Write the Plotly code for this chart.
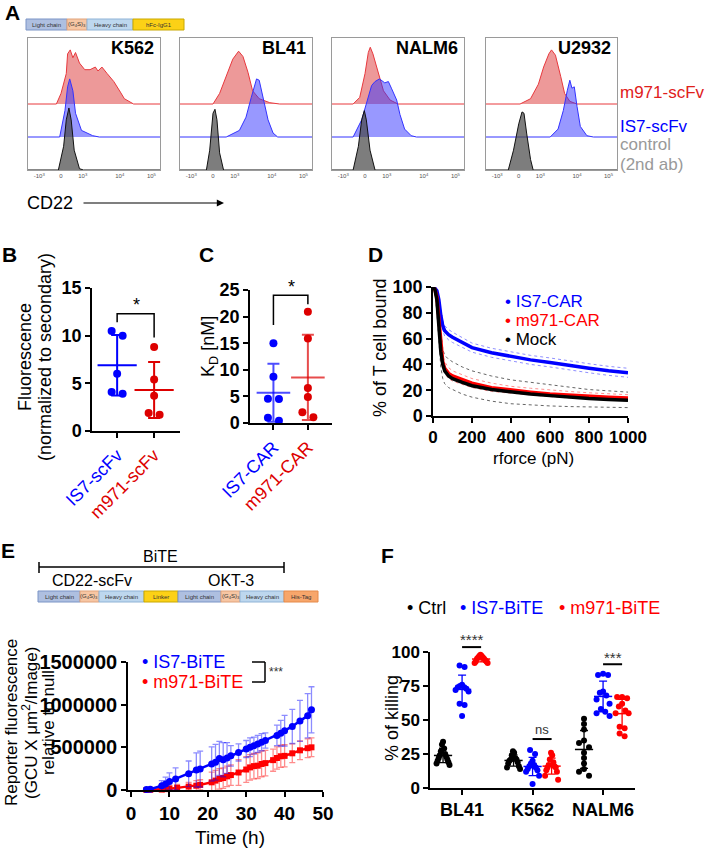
import numpy as np
import plotly.graph_objects as go

W, H = 708, 851
FONT = "Liberation Sans, Arial, sans-serif"
BLUE = "#0000ff"
GRAY = "#999999"

# ---------------- A: flow histograms (x in display units, height above own baseline) ----------------
A_CELLS = ["K562", "BL41", "NALM6", "U2932"]
A_TICK_POS = [8.5, 25, 41.5, 69.5, 93.5]
A_TICK_TEXT = ["-10<sup>3</sup>", "0", "10<sup>3</sup>", "10<sup>4</sup>", "10<sup>5</sup>"]

K562_M971_X = [0, 21.5, 25, 29, 30, 32, 34, 36, 39, 43, 47, 51, 53, 56, 60, 65, 70, 73, 80, 100]
K562_M971_Y = [0, 0, 8, 23, 38, 41, 35, 39, 31, 26, 26, 28, 25, 28, 23, 17, 9, 4, 0, 0]
K562_IS7_X = [0, 24, 28, 30, 31.6, 34, 36, 40.5, 49, 54, 100]
K562_IS7_Y = [0, 0, 20, 38, 44, 35, 18, 5, 1, 0, 0]
K562_CTRL_X = [0, 23, 27, 29, 31, 32.7, 35, 39, 42, 100]
K562_CTRL_Y = [0, 0, 18, 38, 47, 38, 15, 1, 0, 0]

BL41_M971_X = [0, 25, 30, 35, 40, 44.4, 47.7, 51.5, 55, 60, 68, 75.5, 100]
BL41_M971_Y = [0, 0, 8, 21, 34, 40, 36, 24, 10, 4, 1, 0, 0]
BL41_IS7_X = [0, 35, 45, 50, 54, 58, 60, 63, 66.7, 70.5, 74, 100]
BL41_IS7_Y = [0, 0, 5, 15, 30, 44, 43, 30, 13, 3, 0, 0]
BL41_CTRL_X = [0, 20, 22.5, 25, 26.5, 28, 30, 33, 100]
BL41_CTRL_Y = [0, 0, 15, 43, 46, 38, 13, 0, 0]

NALM6_M971_X = [0, 16, 21, 25, 27.5, 29, 31, 34, 36, 39, 44, 50, 100]
NALM6_M971_Y = [0, 0, 5, 23, 39, 43, 38, 28, 21, 10, 3, 0, 0]
NALM6_IS7_X = [0, 16, 22.5, 27.5, 30, 32.6, 36, 40, 42.7, 45, 49, 51.5, 55, 60, 64, 100]
NALM6_IS7_Y = [0, 0, 13, 30, 39, 42, 44, 41, 42, 37, 28, 17, 6, 1, 0, 0]
NALM6_CTRL_X = [0, 16, 20, 22.5, 24.5, 26, 28.8, 32.6, 100]
NALM6_CTRL_Y = [0, 0, 18, 38, 45, 38, 15, 0, 0]

U2932_M971_X = [0, 26, 34, 40, 44, 48, 50, 53, 57, 60, 64, 69.5, 100]
U2932_M971_Y = [0, 0, 4, 15, 28, 38, 41, 37, 21, 8, 2, 0, 0]
U2932_IS7_X = [0, 49, 55, 59, 62, 64, 65.6, 67.4, 69.5, 72, 77, 82, 100]
U2932_IS7_Y = [0, 0, 6, 20, 35, 43, 37, 38, 23, 8, 1, 0, 0]
U2932_CTRL_X = [0, 17, 21, 25, 27.5, 29, 31, 34, 36, 100]
U2932_CTRL_Y = [0, 0, 15, 35, 44, 43, 28, 8, 0, 0]

A_HIST = {
    "K562": [(K562_M971_X, K562_M971_Y), (K562_IS7_X, K562_IS7_Y), (K562_CTRL_X, K562_CTRL_Y)],
    "BL41": [(BL41_M971_X, BL41_M971_Y), (BL41_IS7_X, BL41_IS7_Y), (BL41_CTRL_X, BL41_CTRL_Y)],
    "NALM6": [(NALM6_M971_X, NALM6_M971_Y), (NALM6_IS7_X, NALM6_IS7_Y), (NALM6_CTRL_X, NALM6_CTRL_Y)],
    "U2932": [(U2932_M971_X, U2932_M971_Y), (U2932_IS7_X, U2932_IS7_Y), (U2932_CTRL_X, U2932_CTRL_Y)],
}

# ---------------- B / C ----------------
B_LABELS = ["IS7-scFv", "m971-scFv"]
B_IS7 = [10.5, 10.0, 6.0, 4.1, 3.9]
B_M971 = [8.8, 5.4, 3.7, 1.9, 1.7]

C_LABELS = ["IS7-CAR", "m971-CAR"]
C_IS7 = [15.0, 8.7, 4.55, 4.5, 1.0, 0.4]
C_M971 = [20.9, 15.9, 6.6, 4.9, 2.0, 1.1]

# ---------------- D: force curves ----------------
D_FORCE = [0, 10, 20, 30, 40, 50, 60, 80, 100, 150, 200, 300, 400, 500, 600, 700, 800, 900, 1000]
D_IS7 = [100, 99, 97, 90, 78, 70, 66, 63, 61, 57, 53, 49, 46, 43.5, 41.5, 39, 37, 35, 33.6]
D_IS7_HI = [100, 99.5, 98, 93, 82, 74, 70, 67, 65, 61, 56.5, 52.5, 49.5, 47, 45, 42.5, 40.5, 38.5, 37]
D_IS7_LO = [100, 98, 95, 86, 74, 66, 62, 59, 57, 53, 49.5, 45.5, 42.5, 40, 38, 35.5, 33.5, 31.5, 30]
D_M971 = [100, 98, 92, 75, 55, 42, 37, 33, 31, 28, 25.5, 22, 20, 18.5, 17, 16, 15.3, 14.5, 14]
D_M971_HI = [100, 99, 95, 80, 60, 47, 42, 37.5, 35, 32, 29, 25.5, 23, 21.5, 20, 19, 18, 17, 16.5]
D_M971_LO = [100, 97, 88, 70, 50, 38, 33, 29, 27, 24.5, 22, 19, 17.5, 16, 15, 14, 13.5, 13, 12.5]
D_MOCK = [100, 98, 90, 70, 50, 40, 35, 31, 29, 26, 23.5, 20.5, 18.5, 17, 15.8, 14.5, 13.5, 12.8, 12.3]
D_MOCK_HI = [100, 99, 94, 80, 62, 52, 47, 44, 42, 38, 35, 31, 28, 26, 24, 22, 20.5, 19.5, 18.5]
D_MOCK_LO = [100, 96, 80, 55, 38, 29, 25, 22, 20.5, 17, 14.6, 11.5, 9.5, 8.5, 7.8, 7.3, 7, 6.8, 6.5]

# ---------------- E: reporter time course ----------------
E_T_IS7 = [4, 5, 8, 9, 10, 11.6, 15, 17, 18, 21, 22, 23, 24, 25, 26, 28, 30, 31, 32, 33, 34, 35, 38, 39, 40, 42, 44, 46, 47]
E_IS7 = [5000, 10000, 50000, 70000, 100000, 130000, 190000, 235000, 245000, 305000, 325000, 370000, 355000, 375000,
         400000, 440000, 480000, 500000, 520000, 540000, 560000, 580000, 640000, 665000, 695000, 745000, 810000,
         870000, 940000]
E_IS7_SD = [10000, 10000, 60000, 80000, 100000, 130000, 150000, 200000, 210000, 200000, 210000, 200000, 200000,
            180000, 120000, 100000, 100000, 110000, 100000, 100000, 100000, 90000, 120000, 150000, 180000, 200000,
            240000, 260000, 270000]
E_T_M971 = [4, 5, 8, 9, 10, 12, 15, 17, 18, 21, 22, 23, 24, 25, 26, 28, 30, 31, 32, 33, 34, 35, 37, 38, 39, 40, 42, 44, 46, 47]
E_M971 = [0, 2000, 5000, 10000, 15000, 25000, 40000, 50000, 60000, 90000, 110000, 130000, 140000, 160000, 175000,
          205000, 240000, 265000, 280000, 285000, 305000, 315000, 350000, 375000, 395000, 400000, 430000, 465000,
          490000, 500000]
E_M971_SD = [5000, 5000, 40000, 40000, 40000, 40000, 50000, 60000, 60000, 120000, 120000, 120000, 120000, 120000,
             120000, 150000, 150000, 150000, 150000, 150000, 150000, 150000, 130000, 130000, 130000, 130000, 110000,
             110000, 110000, 110000]

# ---------------- F: killing ----------------
F_CELLS = ["BL41", "K562", "NALM6"]
F_GROUPS = ["Ctrl", "IS7-BiTE", "m971-BiTE"]
F_CTRL = [[34, 32, 29, 27, 25, 24, 23, 22, 21, 20, 19, 18, 17],
          [27, 26, 24, 22, 21, 21, 20, 19, 18, 16, 15, 14],
          [51, 47, 43, 35, 33, 30, 26, 22, 18, 14, 12, 9]]
F_IS7 = [[90, 89, 76, 75, 74, 74, 73, 72, 71, 62, 61, 53],
         [28, 25, 20, 18, 17, 16, 15, 14, 13, 12, 9, 3],
         [84, 83, 83, 71, 70, 68, 65, 62, 58, 56, 55, 53]]
F_M971 = [[98, 97, 97, 96, 96, 95, 95, 94, 93, 92, 92, 93],
          [26, 24, 21, 19, 17, 16, 15, 15, 13, 12, 9, 6],
          [67, 67, 66, 62, 60, 57, 55, 55, 45, 44, 40, 38]]


# ---------------- helpers ----------------
def xdom(a, b):
    return [a / W, b / W]


def ydom(top, bottom):
    return [1 - bottom / H, 1 - top / H]


def swarm(values, ypu, xpu, thresh, step, max_w):
    vals = np.asarray(values, float)
    order = list(np.argsort(-vals, kind="stable"))
    offs = np.zeros(len(vals))
    clusters, cur = [], [order[0]]
    for a, b in zip(order[:-1], order[1:]):
        if (vals[a] - vals[b]) * ypu < thresh:
            cur.append(b)
        else:
            clusters.append(cur)
            cur = [b]
    clusters.append(cur)
    for c in clusters:
        n = len(c)
        if n == 1:
            continue
        s = min(step, max_w / (n - 1))
        slots = sorted(((k - (n - 1) / 2) * s for k in range(n)), key=lambda v: (abs(v), v))
        for idx, sl in zip(c, slots):
            offs[idx] = sl
    return offs / xpu


fig = go.Figure()
axes = {}
ann = []
shapes = []


def add_axes(n, xd, yd, xkw, ykw):
    sx = "" if n == 1 else str(n)
    axes["xaxis" + sx] = dict(domain=xd, anchor="y" + sx, automargin=False, **xkw)
    axes["yaxis" + sx] = dict(domain=yd, anchor="x" + sx, automargin=False, **ykw)
    return "x" + sx, "y" + sx


AX = dict(showline=True, linecolor="black", linewidth=1.5, ticks="outside", ticklen=5, tickwidth=1.5,
          tickcolor="black", showgrid=False, zeroline=False, fixedrange=True)
BOLD = lambda s: dict(family=FONT, size=s, color="black", weight="bold")


def text(x, y, s, size=18, color="black", bold=False, xanchor="center", yanchor="middle", angle=0):
    ann.append(dict(x=x / W, y=1 - y / H, xref="paper", yref="paper", text=s, showarrow=False,
                    xanchor=xanchor, yanchor=yanchor, textangle=angle,
                    font=dict(family=FONT, size=size, color=color, weight="bold" if bold else "normal")))


# ---------------- Panel A ----------------
A_BOXES = [(28, 160), (180, 312), (332, 464), (486, 617)]
A_BASE = [50, 25, 0]
A_FILL = ["rgba(222,70,70,0.55)", "rgba(50,50,255,0.5)", "rgba(70,70,70,0.7)"]
A_LINE = ["#e8383d", "#3333ff", "#111111"]
for i, cell in enumerate(A_CELLS):
    xa, ya = add_axes(i + 1, xdom(*A_BOXES[i]), ydom(38, 170),
                      dict(range=[0, 100], showline=True, mirror=True, linecolor="#9a9a9a", linewidth=1,
                           ticks="", tickvals=A_TICK_POS, ticktext=A_TICK_TEXT, showgrid=False, zeroline=False,
                           tickfont=dict(family=FONT, size=6, color="#555")),
                      dict(range=[0, 100], showline=True, mirror=True, linecolor="#9a9a9a", linewidth=1,
                           showticklabels=False, ticks="", showgrid=False, zeroline=False))
    for (hx, hy), base, fc, lc in zip(A_HIST[cell], A_BASE, A_FILL, A_LINE):
        fig.add_trace(go.Scatter(x=hx, y=[base + v for v in hy], mode="lines", fill="toself", fillcolor=fc,
                                 line=dict(color=lc, width=1), xaxis=xa, yaxis=ya, hoverinfo="skip"))
    text(A_BOXES[i][1] - 4, 48, cell, size=18, bold=True, xanchor="right")

text(3, 12, "A", size=21, bold=True, xanchor="left")
text(618, 92, "m971-scFv", size=17, color="#e0201b", xanchor="left")
text(618, 126, "IS7-scFv", size=17, color=BLUE, xanchor="left")
text(618, 144, "control", size=17, color=GRAY, xanchor="left")
text(618, 164, "(2nd ab)", size=17, color=GRAY, xanchor="left")
text(25, 203, "CD22", xanchor="left")
ann.append(dict(x=224 / W, y=1 - 203 / H, xref="paper", yref="paper", ax=-142, ay=0, text="", showarrow=True,
                arrowhead=2, arrowsize=1.2, arrowwidth=1.2, arrowcolor="black"))


# construct bars
def construct(x0, y0, y1, segs, size=6):
    x = x0
    for label, fill, line, w in segs:
        shapes.append(dict(type="rect", xref="paper", yref="paper", x0=x / W, x1=(x + w) / W,
                           y0=1 - y1 / H, y1=1 - y0 / H, fillcolor=fill, line=dict(color=line, width=1)))
        text(x + w / 2, (y0 + y1) / 2, label, size=size, color="#333")
        x += w


LC = ("#aebfe0", "#7a94c6")
G4 = ("#f7c6a3", "#e0a27a")
HC = ("#bdd7ee", "#8fb3d6")
FC = ("#fcd116", "#c9a800")
HT = ("#f7a66b", "#e58a4a")
G4S = "(G<sub>4</sub>S)<sub>3</sub>"
construct(26, 19, 30, [("Light chain", *LC, 41), (G4S, *G4, 20), ("Heavy chain", *HC, 46), ("hFc-IgG1", *FC, 51)])
construct(38, 591, 602, [("Light chain", *LC, 42), (G4S, *G4, 19), ("Heavy chain", *HC, 45), ("Linker", *FC, 34),
                         ("Light chain", *LC, 43), (G4S, *G4, 19), ("Heavy chain", *HC, 44), ("His-Tag", *HT, 34)])


# ---------------- Panel B / C ----------------
def dot_panel(n, xd, yd, yrange, ytick, labels, groups, colors, err_colors, thresh, step, maxw, mean_w):
    xr = [-0.68, 1.70]
    xpu = (xd[1] - xd[0]) * W / (xr[1] - xr[0])
    ypu = (yd[1] - yd[0]) * H / (yrange[1] - yrange[0])
    xa, ya = add_axes(n, xd, yd,
                      dict(AX, range=xr, tickvals=[0, 1], tickangle=-45,
                           ticktext=[f"<span style='color:{c}'>{l}</span>" for l, c in zip(labels, colors)],
                           tickfont=dict(family=FONT, size=18)),
                      dict(AX, range=yrange, dtick=ytick, tickfont=BOLD(18)))
    for gi, (vals, c, ec) in enumerate(zip(groups, colors, err_colors)):
        offs = swarm(vals, ypu, xpu, thresh, step, maxw)
        fig.add_trace(go.Scatter(x=gi + offs, y=vals, mode="markers", marker=dict(color=c, size=8),
                                 xaxis=xa, yaxis=ya, cliponaxis=False))
        fig.add_trace(go.Scatter(x=[gi], y=[np.mean(vals)], mode="markers",
                                 marker=dict(symbol="line-ew", size=mean_w, color=ec, line=dict(color=ec, width=2)),
                                 error_y=dict(type="data", array=[np.std(vals, ddof=1)], color=ec, thickness=2,
                                              width=6),
                                 xaxis=xa, yaxis=ya, cliponaxis=False))
    return xa, ya


xa, ya = dot_panel(5, xdom(92, 180), ydom(288, 431), [0, 15], 5, B_LABELS, [B_IS7, B_M971], [BLUE, "#dd0000"],
                   [BLUE, "#dd0000"], 8, 11, 11, 28)
fig.add_trace(go.Scatter(x=[0, 0, 1, 1], y=[11.4, 12.3, 12.3, 9.8], mode="lines", line=dict(color="black", width=1.5),
                         xaxis=xa, yaxis=ya, cliponaxis=False))
text(136, 305, "*", size=18)
text(9, 255, "B", size=21, bold=True)
text(25, 357, "Fluorescence", size=18, angle=-90)
text(45, 357, "(normalized to secondary)", size=18, angle=-90)

xa, ya = dot_panel(6, xdom(250, 332), ydom(290, 423), [0, 25], 5, C_LABELS, [C_IS7, C_M971], [BLUE, "#dd0000"],
                   ["rgba(0,0,255,0.7)", "rgba(221,0,0,0.7)"], 8, 11, 11, 24)
fig.add_trace(go.Scatter(x=[0, 0, 1, 1], y=[18.4, 24, 24, 22.3], mode="lines", line=dict(color="black", width=1.5),
                         xaxis=xa, yaxis=ya, cliponaxis=False))
text(291, 287, "*", size=18)
text(206, 255, "C", size=21, bold=True)
text(209, 347, "K<sub>D</sub> [nM]", size=18, angle=-90)

# ---------------- Panel D ----------------
xa, ya = add_axes(7, xdom(433, 628), ydom(287, 416),
                  dict(AX, range=[0, 1000], dtick=200, tickfont=BOLD(17)),
                  dict(AX, range=[0, 100], dtick=20, tickfont=BOLD(18)))
for y, c in [(D_MOCK_HI, "#666"), (D_MOCK_LO, "#666"), (D_M971_HI, "#ff9090"), (D_M971_LO, "#ff9090"),
             (D_IS7_HI, "#9090ff"), (D_IS7_LO, "#9090ff")]:
    fig.add_trace(go.Scatter(x=D_FORCE, y=y, mode="lines", line=dict(color=c, width=1, dash="dot"),
                             xaxis=xa, yaxis=ya))
for y, c in [(D_IS7, BLUE), (D_M971, "#ff0000"), (D_MOCK, "black")]:
    fig.add_trace(go.Scatter(x=D_FORCE, y=y, mode="lines", line=dict(color=c, width=3.5),
                             xaxis=xa, yaxis=ya))
text(375, 255, "D", size=21, bold=True)
text(380, 348, "% of T cell bound", size=18, angle=-90)
text(533, 459, "rforce (pN)", size=17)
text(503, 301, "• IS7-CAR", size=17, color=BLUE, xanchor="left")
text(503, 320, "• m971-CAR", size=17, color="#ff0000", xanchor="left")
text(503, 339, "• Mock", size=17, color="black", xanchor="left")

# ---------------- Panel E ----------------
xa, ya = add_axes(8, xdom(128, 323), ydom(662, 790),
                  dict(AX, range=[-0.8, 50], dtick=10, tickfont=BOLD(19)),
                  dict(AX, range=[0, 1500000], tickvals=[0, 500000, 1000000, 1500000], tickformat="d",
                       tickfont=BOLD(20)))
fig.add_trace(go.Scatter(x=E_T_M971, y=E_M971, mode="lines+markers", line=dict(color="#ff0000", width=2.5),
                         marker=dict(symbol="square", size=6, color="#ff0000"),
                         error_y=dict(type="data", array=E_M971_SD, color="rgba(255,0,0,0.45)", thickness=1.3, width=3),
                         xaxis=xa, yaxis=ya, cliponaxis=False))
fig.add_trace(go.Scatter(x=E_T_IS7, y=E_IS7, mode="lines+markers", line=dict(color=BLUE, width=2.5),
                         marker=dict(symbol="circle", size=7, color=BLUE),
                         error_y=dict(type="data", array=E_IS7_SD, color="rgba(0,0,255,0.45)", thickness=1.3, width=3),
                         xaxis=xa, yaxis=ya, cliponaxis=False))
text(8, 550, "E", size=21, bold=True)
shapes.append(dict(type="line", xref="paper", yref="paper", x0=39 / W, x1=284 / W, y0=1 - 567 / H, y1=1 - 567 / H,
                   line=dict(color="black", width=1.5)))
for xe in (39, 284):
    shapes.append(dict(type="line", xref="paper", yref="paper", x0=xe / W, x1=xe / W, y0=1 - 562 / H,
                       y1=1 - 573 / H, line=dict(color="black", width=1.5)))
text(160, 556, "BiTE", size=16)
text(92, 580, "CD22-scFv", size=16)
text(231, 580, "OKT-3", size=16)
text(140, 662, "• IS7-BiTE", color=BLUE, xanchor="left")
text(140, 682, "• m971-BiTE", color="#ff0000", xanchor="left")
for seg in [(252, 662, 265, 662), (265, 662, 265, 682), (252, 682, 265, 682)]:
    shapes.append(dict(type="line", xref="paper", yref="paper", x0=seg[0] / W, y0=1 - seg[1] / H, x1=seg[2] / W,
                       y1=1 - seg[3] / H, line=dict(color="black", width=1.5)))
text(267, 672, "***", size=12, color="#333", xanchor="left")
text(11, 723, "Reporter fluorescence", size=17, angle=-90)
text(30, 723, "(GCU X μm<sup>2</sup>/Image)", size=17, angle=-90)
text(48, 723, "relative to null", size=17, angle=-90)
text(230, 837, "Time (h)", size=19)

# ---------------- Panel F ----------------
F_OFF = [-0.27, 0.0, 0.27]
F_COLORS = ["black", BLUE, "#ff0000"]
fxr = [-0.455, 2.453]
fxd, fyd = xdom(430, 635), ydom(652, 788)
xa, ya = add_axes(9, fxd, fyd,
                  dict(AX, range=fxr, tickvals=[0, 1, 2], ticktext=F_CELLS, tickfont=BOLD(18)),
                  dict(AX, range=[0, 100], dtick=25, tickfont=BOLD(17)))
fxpu = (fxd[1] - fxd[0]) * W / (fxr[1] - fxr[0])
fypu = (fyd[1] - fyd[0]) * H / 100
for gi, (series, off, c) in enumerate(zip([F_CTRL, F_IS7, F_M971], F_OFF, F_COLORS)):
    for ci, vals in enumerate(series):
        offs = swarm(vals, fypu, fxpu, 5, 5, 13)
        fig.add_trace(go.Scatter(x=ci + off + offs, y=vals, mode="markers", marker=dict(color=c, size=6),
                                 xaxis=xa, yaxis=ya, cliponaxis=False))
        fig.add_trace(go.Scatter(x=[ci + off], y=[np.mean(vals)], mode="markers",
                                 marker=dict(symbol="line-ew", size=13, color=c, line=dict(color=c, width=1.5)),
                                 error_y=dict(type="data", array=[np.std(vals, ddof=1)], color=c, thickness=1.3,
                                              width=4),
                                 xaxis=xa, yaxis=ya, cliponaxis=False))


def f_paper_x(v):
    return fxd[0] + (v - fxr[0]) / (fxr[1] - fxr[0]) * (fxd[1] - fxd[0])


def f_paper_y(v):
    return fyd[0] + v / 100 * (fyd[1] - fyd[0])


for ci, yl, lab, yt in [(0, 103.6, "****", 109), (1, 36, "ns", 43), (2, 91, "***", 96)]:
    shapes.append(dict(type="line", xref="paper", yref="paper", x0=f_paper_x(ci + F_OFF[1]),
                       x1=f_paper_x(ci + F_OFF[2]), y0=f_paper_y(yl), y1=f_paper_y(yl),
                       line=dict(color="black", width=2)))
    ann.append(dict(x=f_paper_x(ci + (F_OFF[1] + F_OFF[2]) / 2), y=f_paper_y(yt), xref="paper", yref="paper",
                    text=lab, showarrow=False, xanchor="center", yanchor="middle",
                    font=dict(family=FONT, size=13 if lab == "ns" else 15, color="#333")))
text(388, 555, "F", size=21, bold=True)
text(392, 718, "% of killing", size=18, angle=-90)
text(405, 608, "• Ctrl", color="black", xanchor="left")
text(458, 608, "• IS7-BiTE", color=BLUE, xanchor="left")
text(557, 608, "• m971-BiTE", color="#ff0000", xanchor="left")

fig.update_layout(width=W, height=H, margin=dict(l=0, r=0, t=0, b=0, autoexpand=False), paper_bgcolor="white",
                  plot_bgcolor="white", showlegend=False, annotations=ann, shapes=shapes,
                  font=dict(family=FONT, color="black"), **axes)
fig.write_html("out.html", config={"displayModeBar": False},
               post_script="document.body.style.margin='0';")
